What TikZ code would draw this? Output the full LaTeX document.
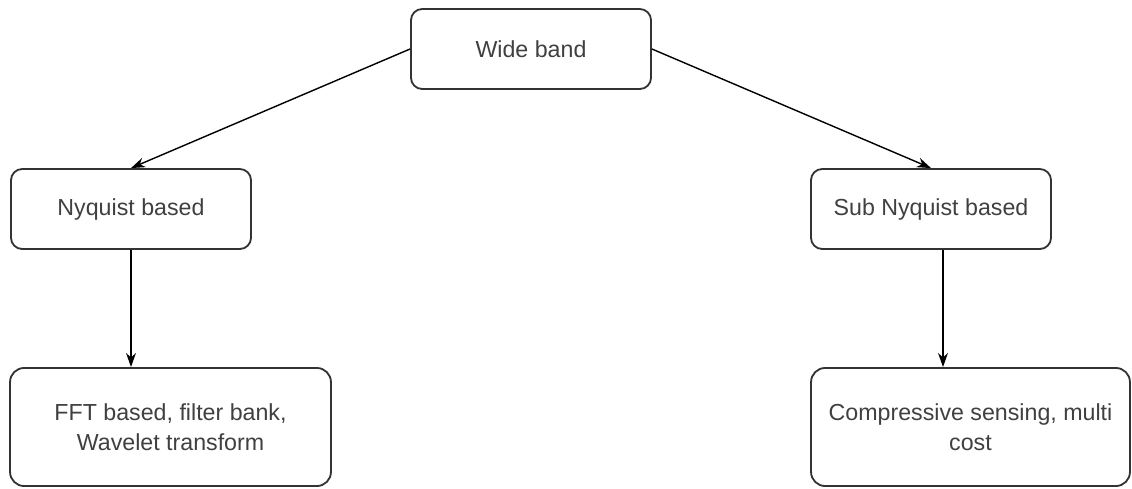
\documentclass[tikz,border=0pt]{standalone}
\usepackage{fontspec}
\setmainfont{Liberation Sans}
\usetikzlibrary{arrows.meta}

\tikzset{
  box/.style = {draw=black!80, line width=1.3pt, rounded corners=8pt, fill=white,
                text=black!75, align=center, inner sep=0pt},
  small box/.style = {box, minimum width=6cm, minimum height=2cm},
  big box/.style = {box, rounded corners=10pt, minimum height=2.95cm},
  arr/.style = {-{Stealth[length=10pt, width=7pt]}, line width=1pt, black}
}

\begin{document}
\begin{tikzpicture}[x=0.025cm, y=-0.025cm, font=\fontsize{16.5}{21.5}\selectfont]
  \useasboundingbox (0,0) rectangle (1132,488);

  % Livello superiore
  \node[small box] (wide) at (531,49) {Wide band};

  % Secondo livello
  \node[small box] (nyq) at (131,209) {Nyquist based};
  \node[small box] (sub) at (931,209) {Sub Nyquist based};

  % Livello inferiore
  \node[big box, minimum width=8.02cm] (fft) at (170.5,427) {FFT based, filter bank,\\Wavelet transform};
  \node[big box, minimum width=7.97cm] (cs) at (970.5,427) {Compressive sensing, multi\\cost};

  % Frecce
  \draw[arr] (wide.west) -- (nyq.north);
  \draw[arr] (wide.east) -- (sub.north);
  \draw[arr] (nyq.south) -- (nyq.south |- fft.north);
  \draw[arr] ([xshift=0.3cm]sub.south) -- ([xshift=0.3cm]sub.south |- cs.north);
\end{tikzpicture}
\end{document}
